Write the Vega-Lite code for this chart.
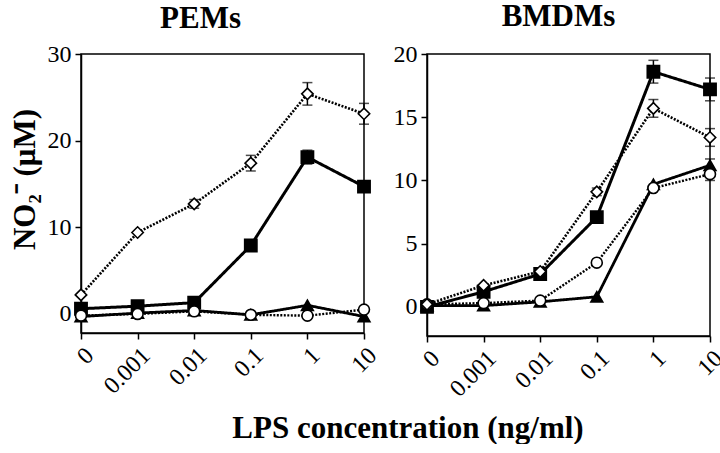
{
  "$schema": "https://vega.github.io/schema/vega-lite/v6.json",
  "padding": {"left": 8, "top": 0, "right": 4, "bottom": 0},
  "background": "white",
  "spacing": 10,
  "datasets": {
    "d": [
      {"panel": "PEMs", "series": "square", "conc": "0", "val": 0.6, "err": 0},
      {"panel": "PEMs", "series": "square", "conc": "0.001", "val": 0.9, "err": 0},
      {"panel": "PEMs", "series": "square", "conc": "0.01", "val": 1.3, "err": 0},
      {"panel": "PEMs", "series": "square", "conc": "0.1", "val": 7.9, "err": 0},
      {"panel": "PEMs", "series": "square", "conc": "1", "val": 18.1, "err": 0.8},
      {"panel": "PEMs", "series": "square", "conc": "10", "val": 14.7, "err": 0},
      {"panel": "PEMs", "series": "triangle", "conc": "0", "val": -0.3, "err": 0},
      {"panel": "PEMs", "series": "triangle", "conc": "0.001", "val": 0.1, "err": 0},
      {"panel": "PEMs", "series": "triangle", "conc": "0.01", "val": 0.4, "err": 0},
      {"panel": "PEMs", "series": "triangle", "conc": "0.1", "val": -0.1, "err": 0},
      {"panel": "PEMs", "series": "triangle", "conc": "1", "val": 1.0, "err": 0},
      {"panel": "PEMs", "series": "triangle", "conc": "10", "val": -0.3, "err": 0},
      {"panel": "PEMs", "series": "circle", "conc": "0", "val": -0.2, "err": 0},
      {"panel": "PEMs", "series": "circle", "conc": "0.001", "val": 0.0, "err": 0},
      {"panel": "PEMs", "series": "circle", "conc": "0.01", "val": 0.3, "err": 0},
      {"panel": "PEMs", "series": "circle", "conc": "0.1", "val": -0.1, "err": 0},
      {"panel": "PEMs", "series": "circle", "conc": "1", "val": -0.2, "err": 0},
      {"panel": "PEMs", "series": "circle", "conc": "10", "val": 0.5, "err": 0},
      {"panel": "PEMs", "series": "diamond", "conc": "0", "val": 2.2, "err": 0},
      {"panel": "PEMs", "series": "diamond", "conc": "0.001", "val": 9.4, "err": 0},
      {"panel": "PEMs", "series": "diamond", "conc": "0.01", "val": 12.7, "err": 0.5},
      {"panel": "PEMs", "series": "diamond", "conc": "0.1", "val": 17.4, "err": 0.9},
      {"panel": "PEMs", "series": "diamond", "conc": "1", "val": 25.4, "err": 1.3},
      {"panel": "PEMs", "series": "diamond", "conc": "10", "val": 23.1, "err": 1.2},
      {"panel": "BMDMs", "series": "square", "conc": "0", "val": 0.0, "err": 0},
      {"panel": "BMDMs", "series": "square", "conc": "0.001", "val": 1.2, "err": 0},
      {"panel": "BMDMs", "series": "square", "conc": "0.01", "val": 2.6, "err": 0},
      {"panel": "BMDMs", "series": "square", "conc": "0.1", "val": 7.1, "err": 0},
      {"panel": "BMDMs", "series": "square", "conc": "1", "val": 18.6, "err": 0.9},
      {"panel": "BMDMs", "series": "square", "conc": "10", "val": 17.2, "err": 0.9},
      {"panel": "BMDMs", "series": "triangle", "conc": "0", "val": 0.1, "err": 0},
      {"panel": "BMDMs", "series": "triangle", "conc": "0.001", "val": 0.1, "err": 0},
      {"panel": "BMDMs", "series": "triangle", "conc": "0.01", "val": 0.4, "err": 0},
      {"panel": "BMDMs", "series": "triangle", "conc": "0.1", "val": 0.8, "err": 0},
      {"panel": "BMDMs", "series": "triangle", "conc": "1", "val": 9.7, "err": 0},
      {"panel": "BMDMs", "series": "triangle", "conc": "10", "val": 11.2, "err": 0.5},
      {"panel": "BMDMs", "series": "circle", "conc": "0", "val": 0.2, "err": 0},
      {"panel": "BMDMs", "series": "circle", "conc": "0.001", "val": 0.3, "err": 0},
      {"panel": "BMDMs", "series": "circle", "conc": "0.01", "val": 0.5, "err": 0},
      {"panel": "BMDMs", "series": "circle", "conc": "0.1", "val": 3.5, "err": 0},
      {"panel": "BMDMs", "series": "circle", "conc": "1", "val": 9.4, "err": 0},
      {"panel": "BMDMs", "series": "circle", "conc": "10", "val": 10.5, "err": 0.5},
      {"panel": "BMDMs", "series": "diamond", "conc": "0", "val": 0.2, "err": 0},
      {"panel": "BMDMs", "series": "diamond", "conc": "0.001", "val": 1.7, "err": 0},
      {"panel": "BMDMs", "series": "diamond", "conc": "0.01", "val": 2.8, "err": 0},
      {"panel": "BMDMs", "series": "diamond", "conc": "0.1", "val": 9.1, "err": 0.3},
      {"panel": "BMDMs", "series": "diamond", "conc": "1", "val": 15.7, "err": 0.7},
      {"panel": "BMDMs", "series": "diamond", "conc": "10", "val": 13.4, "err": 0.7}
    ]
  },
  "title": {
    "text": "LPS concentration (ng/ml)",
    "orient": "bottom",
    "anchor": "middle",
    "font": "Liberation Serif",
    "fontSize": 31,
    "fontWeight": "bold",
    "color": "black",
    "offset": 12,
    "dx": 40
  },
  "hconcat": [
    {
      "width": 283,
      "height": 279,
      "title": {"text": "PEMs", "font": "Liberation Serif", "fontSize": 31, "fontWeight": "bold", "color": "black", "anchor": "middle", "offset": 7, "dx": -22},
      "data": {"name": "d"},
      "transform": [{"filter": "datum.panel === 'PEMs'"}],
      "encoding": {
        "x": {"field": "conc", "type": "ordinal", "sort": ["0", "0.001", "0.01", "0.1", "1", "10"],
              "scale": {"type": "point", "padding": 0, "domain": ["0", "0.001", "0.01", "0.1", "1", "10"]},
              "axis": {"labelAngle": -45, "title": null}},
        "y": {"field": "val", "type": "quantitative", "scale": {"domain": [-2.2, 30], "nice": false, "zero": false},
              "axis": {"values": [0, 10, 20, 30], "title": "NO₂⁻ (μM)", "titleY": 125}}
      },
      "layer": [
        {
          "mark": {"type": "line", "color": "black"},
          "encoding": {
            "detail": {"field": "series"},
            "strokeDash": {"field": "series", "scale": {"domain": ["square", "triangle", "diamond", "circle"], "range": [[1, 0], [1, 0], [2, 1.5], [2, 1.5]]}, "legend": null},
            "strokeWidth": {"field": "series", "scale": {"domain": ["square", "triangle", "diamond", "circle"], "range": [3, 2.4, 1.8, 1.8]}, "legend": null}
          }
        },
        {
          "transform": [{"filter": "datum.err > 0"}],
          "mark": {"type": "errorbar", "ticks": {"size": 10, "thickness": 1.5, "color": "black"}, "rule": {"strokeWidth": 1.5, "color": "black"}},
          "encoding": {
            "y": {"field": "val", "type": "quantitative", "title": "NO₂⁻ (μM)"},
            "yError": {"field": "err"}
          }
        },
        {
          "mark": {"type": "point", "opacity": 1, "strokeWidth": 1.6, "stroke": "black"},
          "encoding": {
            "shape": {"field": "series", "scale": {"domain": ["square", "triangle", "diamond", "circle"], "range": ["square", "triangle-up", "diamond", "circle"]}, "legend": null},
            "fill": {"field": "series", "scale": {"domain": ["square", "triangle", "diamond", "circle"], "range": ["black", "black", "white", "white"]}, "legend": null},
            "size": {"field": "series", "scale": {"domain": ["square", "triangle", "diamond", "circle"], "range": [150, 120, 100, 105]}, "legend": null}
          }
        }
      ]
    },
    {
      "width": 283,
      "height": 282,
      "title": {"text": "BMDMs", "font": "Liberation Serif", "fontSize": 31, "fontWeight": "bold", "color": "black", "anchor": "middle", "offset": 9, "dx": -10},
      "data": {"name": "d"},
      "transform": [{"filter": "datum.panel === 'BMDMs'"}],
      "encoding": {
        "x": {"field": "conc", "type": "ordinal", "sort": ["0", "0.001", "0.01", "0.1", "1", "10"],
              "scale": {"type": "point", "padding": 0, "domain": ["0", "0.001", "0.01", "0.1", "1", "10"]},
              "axis": {"labelAngle": -45, "title": null}},
        "y": {"field": "val", "type": "quantitative", "scale": {"domain": [-2.3, 20], "nice": false, "zero": false},
              "axis": {"values": [0, 5, 10, 15, 20], "title": null}}
      },
      "layer": [
        {
          "mark": {"type": "line", "color": "black"},
          "encoding": {
            "detail": {"field": "series"},
            "strokeDash": {"field": "series", "scale": {"domain": ["square", "triangle", "diamond", "circle"], "range": [[1, 0], [1, 0], [2, 1.5], [2, 1.5]]}, "legend": null},
            "strokeWidth": {"field": "series", "scale": {"domain": ["square", "triangle", "diamond", "circle"], "range": [3, 2.4, 1.8, 1.8]}, "legend": null}
          }
        },
        {
          "transform": [{"filter": "datum.err > 0"}],
          "mark": {"type": "errorbar", "ticks": {"size": 10, "thickness": 1.5, "color": "black"}, "rule": {"strokeWidth": 1.5, "color": "black"}},
          "encoding": {
            "y": {"field": "val", "type": "quantitative", "title": null},
            "yError": {"field": "err"}
          }
        },
        {
          "mark": {"type": "point", "opacity": 1, "strokeWidth": 1.6, "stroke": "black"},
          "encoding": {
            "shape": {"field": "series", "scale": {"domain": ["square", "triangle", "diamond", "circle"], "range": ["square", "triangle-up", "diamond", "circle"]}, "legend": null},
            "fill": {"field": "series", "scale": {"domain": ["square", "triangle", "diamond", "circle"], "range": ["black", "black", "white", "white"]}, "legend": null},
            "size": {"field": "series", "scale": {"domain": ["square", "triangle", "diamond", "circle"], "range": [150, 120, 100, 105]}, "legend": null}
          }
        }
      ]
    }
  ],
  "resolve": {"scale": {"y": "independent"}},
  "config": {
    "font": "Liberation Serif",
    "view": {"stroke": "black", "strokeWidth": 1.5},
    "axis": {
      "grid": false,
      "domainColor": "black",
      "domainWidth": 1.5,
      "tickColor": "black",
      "tickWidth": 1.5,
      "tickSize": 6,
      "labelColor": "black",
      "labelFont": "Liberation Serif",
      "labelFontSize": 24,
      "labelPadding": 4,
      "titleColor": "black",
      "titleFont": "Liberation Serif",
      "titleFontSize": 31,
      "titleFontWeight": "bold",
      "titlePadding": 6
    }
  }
}
